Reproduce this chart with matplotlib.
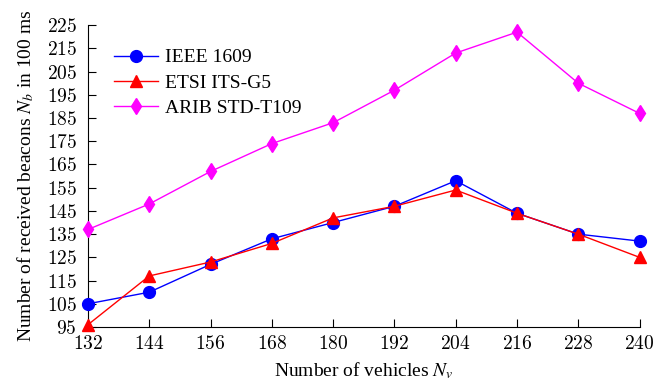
import matplotlib.pyplot as plt

plt.rcParams['font.family'] = ['Liberation Serif', 'DejaVu Serif']
plt.rcParams['mathtext.fontset'] = 'stix'
plt.rcParams['axes.formatter.use_mathtext'] = True

vehicles = [132, 144, 156, 168, 180, 192, 204, 216, 228, 240]
ieee = [105, 110, 122, 133, 140, 147, 158, 144, 135, 132]
etsi = [96, 117, 123, 131, 142, 147, 154, 144, 135, 125]
arib = [137, 148, 162, 174, 183, 197, 213, 222, 200, 187]

fig = plt.figure(figsize=(6.63, 3.86), dpi=100)
ax = fig.add_axes([0.1327, 0.1528, 0.832, 0.782])

ax.plot(vehicles, ieee, color='blue', marker='o', markersize=8.5, lw=1,
        label='IEEE 1609', clip_on=False, zorder=3)
ax.plot(vehicles, etsi, color='red', marker='^', markersize=8.5, lw=1,
        label='ETSI ITS-G5', clip_on=False, zorder=4)
ax.plot(vehicles, arib, color='magenta', marker='d', markersize=8, lw=1,
        label='ARIB STD-T109', clip_on=False, zorder=3)

ax.set_xlim(132, 240)
ax.set_ylim(95, 225)
ax.set_xticks(vehicles)
ax.set_yticks(range(95, 226, 10))
ax.tick_params(direction='in', labelsize=14, length=6, labelfontfamily='cmr10')
ax.tick_params(axis='x', pad=6)
ax.tick_params(axis='y', pad=8)
ax.spines['top'].set_visible(False)
ax.spines['right'].set_visible(False)

ax.set_xlabel('Number of vehicles $N_v$', fontsize=14, labelpad=5)
ax.set_ylabel('Number of received beacons $N_b$ in 100 ms', fontsize=14, labelpad=8)

ax.legend(loc='upper left', bbox_to_anchor=(0.015, 0.98), frameon=False, fontsize=14,
          handlelength=2.3, handletextpad=0.35, labelspacing=0.4)

fig.savefig('out.png', dpi=100)
